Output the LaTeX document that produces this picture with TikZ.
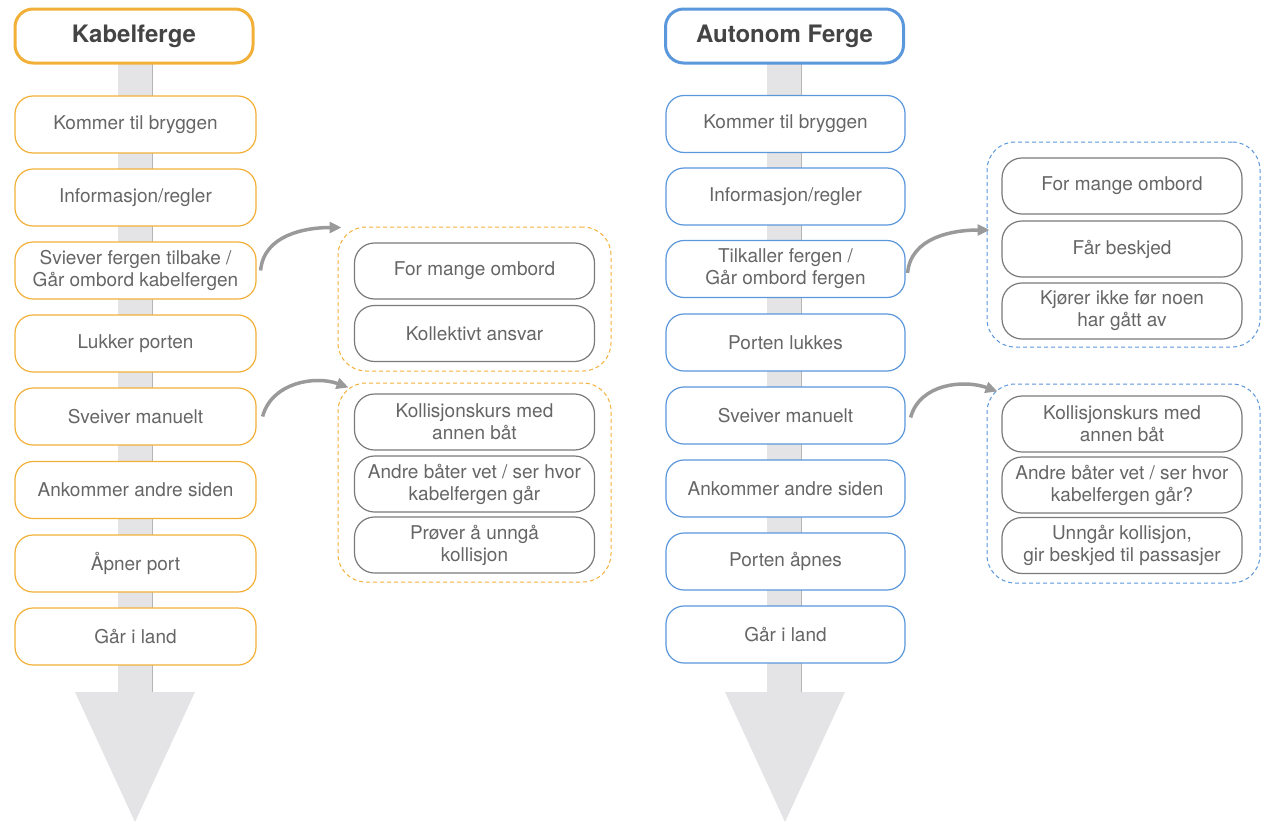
\documentclass[tikz,border=0pt]{standalone}
\usepackage{fontspec}
\setmainfont{TeX Gyre Heros}
\usetikzlibrary{arrows.meta}
\definecolor{ora}{HTML}{F2B039}
\definecolor{blu}{HTML}{5B97DB}
\definecolor{txt}{HTML}{666666}
\definecolor{ttl}{HTML}{444444}
\definecolor{shaft}{HTML}{E4E3E5}
\definecolor{shaftedge}{HTML}{B5B5B5}
\definecolor{inb}{HTML}{7A7A7A}
\definecolor{arr}{HTML}{9A9A9A}
\tikzset{
  base/.style={rounded corners=18pt, align=center, fill=white, text=txt,
    font=\fontsize{19}{22}\selectfont, inner sep=0pt},
  kbox/.style={base, draw=ora, line width=1.2pt, minimum width=241pt, minimum height=57pt},
  abox/.style={base, draw=blu, line width=1.2pt, minimum width=239pt, minimum height=57pt},
  ktitle/.style={base, draw=ora, line width=3pt, minimum width=238pt, minimum height=54pt,
    text=ttl, font=\fontsize{24}{28}\bfseries\selectfont},
  atitle/.style={ktitle, draw=blu},
  ibox/.style={base, draw=inb, line width=1.2pt, rounded corners=20pt, minimum width=240pt, minimum height=56pt},
  kgroup/.style={rounded corners=28pt, draw=ora, dash pattern=on 4pt off 3pt, line width=1pt,
    minimum width=273pt, inner sep=0pt},
  agroup/.style={kgroup, draw=blu},
  conn/.style={draw=arr, line width=3.5pt, -{Triangle[length=12pt,width=11pt]}},
}
\begin{document}
\begin{tikzpicture}[x=1pt,y=-1pt]
\useasboundingbox (0,0) rectangle (1261,822);
% shafts
\fill[shaft] (118,63) rectangle (152,692);
\draw[shaftedge, line width=0.8pt] (152,63) -- (152,692);
\fill[shaft] (75,692) -- (195,692) -- (135,822) -- cycle;
\fill[shaft] (767,63) rectangle (801,692);
\draw[shaftedge, line width=0.8pt] (801,63) -- (801,692);
\fill[shaft] (725,692) -- (845,692) -- (785,822) -- cycle;
% left column
\node[ktitle] (k0) at (134,36) {Kabelferge};
\node[kbox] (k1) at (135.5,124.5) {Kommer til bryggen};
\node[kbox] (k2) at (135.5,197.5) {Informasjon/regler};
\node[kbox] (k3) at (135.5,270.5) {Sviever fergen tilbake /\\Går ombord kabelfergen};
\node[kbox] (k4) at (135.5,343.5) {Lukker porten};
\node[kbox] (k5) at (135.5,416.5) {Sveiver manuelt};
\node[kbox] (k6) at (135.5,490) {Ankommer andre siden};
\node[kbox] (k7) at (135.5,563.5) {Åpner port};
\node[kbox] (k8) at (135.5,636.5) {Går i land};
% right column
\node[atitle] (a0) at (784.5,36) {Autonom Ferge};
\node[abox] (a1) at (785.5,124) {Kommer til bryggen};
\node[abox] (a2) at (785.5,196.5) {Informasjon/regler};
\node[abox] (a3) at (785.5,269) {Tilkaller fergen /\\Går ombord fergen};
\node[abox] (a4) at (785.5,342.5) {Porten lukkes};
\node[abox] (a5) at (785.5,415.5) {Sveiver manuelt};
\node[abox] (a6) at (785.5,488.5) {Ankommer andre siden};
\node[abox] (a7) at (785.5,561.5) {Porten åpnes};
\node[abox] (a8) at (785.5,634.5) {Går i land};
% left groups
\node[kgroup, minimum height=144pt] (gk1) at (474.5,299) {};
\node[ibox] (gk1a) at (474.5,271) {For mange ombord};
\node[ibox] (gk1b) at (474.5,333.5) {Kollektivt ansvar};
\node[kgroup, minimum height=199pt] (gk2) at (474.5,482.5) {};
\node[ibox] (gk2a) at (474.5,422) {Kollisjonskurs med\\annen båt};
\node[ibox] (gk2b) at (474.5,484) {Andre båter vet / ser hvor\\kabelfergen går};
\node[ibox] (gk2c) at (474.5,545) {Prøver å unngå\\kollisjon};
% right groups
\node[agroup, minimum height=205pt] (ga1) at (1123.5,244.5) {};
\node[ibox] (ga1a) at (1122,186) {For mange ombord};
\node[ibox] (ga1b) at (1122,249) {Får beskjed};
\node[ibox] (ga1c) at (1122,311) {Kjører ikke før noen\\har gått av};
\node[agroup, minimum height=199pt] (ga2) at (1123.5,483.5) {};
\node[ibox] (ga2a) at (1122,424) {Kollisjonskurs med\\annen båt};
\node[ibox] (ga2b) at (1122,485) {Andre båter vet / ser hvor\\kabelfergen går?};
\node[ibox] (ga2c) at (1122,545.5) {Unngår kollisjon,\\gir beskjed til passasjer};
% connectors (y axis points down: positive yshift moves up)
\coordinate (t1) at ([xshift=4pt,yshift=-1pt]gk1.north west);
\coordinate (t2) at ([xshift=11pt,yshift=-5pt]gk2.north west);
\coordinate (t3) at ([xshift=3pt,yshift=14.5pt]ga1.west);
\coordinate (t4) at ([xshift=11pt,yshift=-8pt]ga2.north west);
\draw[conn] ([xshift=4pt]k3.east) to[out=85,in=180] (t1);
\draw[conn] ([xshift=6pt]k5.east) to[out=75,in=160] (t2);
\draw[conn] ([xshift=2pt,yshift=-4pt]a3.east) to[out=85,in=180] (t3);
\draw[conn] ([xshift=5pt,yshift=-2pt]a5.east) to[out=75,in=160] (t4);
\end{tikzpicture}
\end{document}
